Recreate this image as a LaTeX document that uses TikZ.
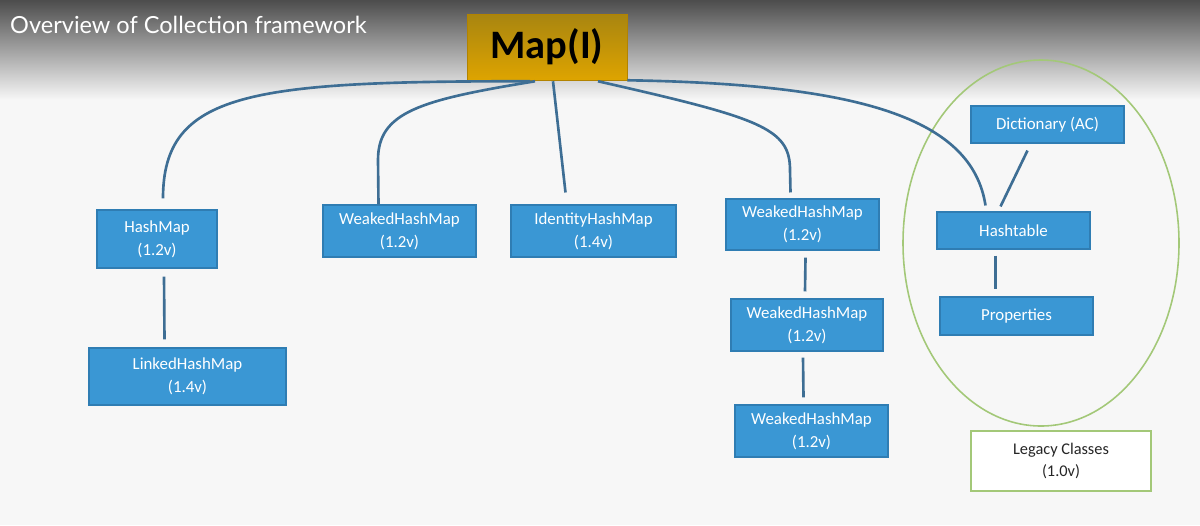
\documentclass[tikz,border=0pt]{standalone}
\usepackage{fontspec}
\setmainfont{Carlito}
\newfontfamily\titlefont{Lato}
\usetikzlibrary{calc}
\definecolor{boxblue}{HTML}{3A97D4}
\definecolor{boxedge}{HTML}{2F7DB3}
\definecolor{conncol}{HTML}{3E6E94}
\definecolor{legacygreen}{HTML}{A3C878}
\definecolor{mapgold}{HTML}{DEA400}
\definecolor{mapdark}{HTML}{A88510}
\tikzset{
  cls/.style={draw=boxedge, line width=0.6pt, fill=boxblue, text=white, align=center,
    inner sep=0pt, font=\fontsize{9.6}{13}\selectfont},
  conn/.style={draw=conncol, line width=1.5pt},
  legacy/.style={draw=legacygreen, line width=1.1pt, fill=white, align=center,
    inner sep=0pt, font=\fontsize{9.3}{13}\selectfont, text=black!85},
}
\begin{document}
\begin{tikzpicture}[x=0.02cm, y=-0.02cm]
\useasboundingbox (0,0) rectangle (1200,525);
\fill[white!97!black] (0,0) rectangle (1200,525);
\shade[top color=black!70, bottom color=white!97!black] (0,0) rectangle (1200,100);
\node[anchor=base west, text=white, font=\titlefont\fontsize{13.4}{15}\selectfont] (title) at (4,33) {Overview of Collection framework};

% legacy ellipse
\draw[legacygreen, line width=0.9pt] (1041,243) ellipse [x radius=138, y radius=183];

% nodes
\node[top color=mapdark, bottom color=mapgold, draw=mapgold!80!black, line width=0.3pt,
  minimum width=160*0.02cm, minimum height=66*0.02cm, inner sep=0pt,
  font=\bfseries\fontsize{23}{26}\selectfont] (map) at (547,47) {Map(I)};
\node[cls, minimum width=120*0.02cm, minimum height=58*0.02cm] (hm) at (157,239) {HashMap\\(1.2v)};
\node[cls, minimum width=197*0.02cm, minimum height=57*0.02cm] (lhm) at (187.5,376.5) {LinkedHashMap\\(1.4v)};
\node[cls, minimum width=153*0.02cm, minimum height=52*0.02cm] (whma) at (399.5,231) {WeakedHashMap\\(1.2v)};
\node[cls, minimum width=165*0.02cm, minimum height=52*0.02cm] (ihm) at (593.5,231) {IdentityHashMap\\(1.4v)};
\node[cls, minimum width=153*0.02cm, minimum height=51*0.02cm] (whmb) at (802.5,224.5) {WeakedHashMap\\(1.2v)};
\node[cls, minimum width=152*0.02cm, minimum height=52*0.02cm] (whmc) at (807,325) {WeakedHashMap\\(1.2v)};
\node[cls, minimum width=153*0.02cm, minimum height=52*0.02cm] (whmd) at (811.5,431) {WeakedHashMap\\(1.2v)};
\node[cls, minimum width=153*0.02cm, minimum height=37*0.02cm] (dict) at (1047.5,124.5) {Dictionary (AC)};
\node[cls, minimum width=153*0.02cm, minimum height=37*0.02cm] (ht) at (1013.5,230.5) {Hashtable};
\node[cls, minimum width=153*0.02cm, minimum height=38*0.02cm] (prop) at (1016.5,316) {Properties};
\node[legacy, minimum width=180*0.02cm, minimum height=60*0.02cm] (leg) at (1061,461) {Legacy Classes\\(1.0v)};

% connectors from Map
\coordinate (m1) at ($(map.south)+(-17,1)$);
\coordinate (m2) at ($(map.south)+(-12,1)$);
\coordinate (m3) at ($(map.south)+(6,1)$);
\coordinate (m4) at ($(map.south)+(51,1)$);
\coordinate (m5) at ($(map.south east)+(0,0)$);
\coordinate (e1) at ($(hm.north)+(6,-11)$);
\coordinate (e2) at ($(whma.north)+(-21,0)$);
\coordinate (e3) at ($(ihm.north)+(-28,-12)$);
\coordinate (e4) at ($(whmb.north)+(-12,-6)$);
\coordinate (e5) at ($(ht.north)+(-28,-6)$);

\draw[conn] (m1) .. controls (250,81) and (163,92) .. (e1);
\draw[conn] (m2) .. controls (420,100) and (378,112) .. (378,160) -- (e2);
\draw[conn] (m3) -- (e3);
\draw[conn] (m4) .. controls (760,118) and (790,128) .. (790,170) -- (e4);
\draw[conn] (m5) .. controls (860,84) and (972,118) .. (e5);

% other connectors
\draw[conn] ($(hm.south)+(7,8)$) -- ($(lhm.north)+(-23,-8)$);
\draw[conn] ($(whmb.south)+(3,7)$) -- ($(whmc.north)+(-2,-7)$);
\draw[conn] ($(whmc.south)+(-4,6)$) -- ($(whmd.north)+(-8,-7)$);
\draw[conn] ($(dict.south)+(-20,7)$) -- ($(ht.north)+(-13,-5)$);
\draw[conn] ($(ht.south)+(-18,6)$) -- ($(prop.north)+(-21,-7)$);
\end{tikzpicture}
\end{document}
